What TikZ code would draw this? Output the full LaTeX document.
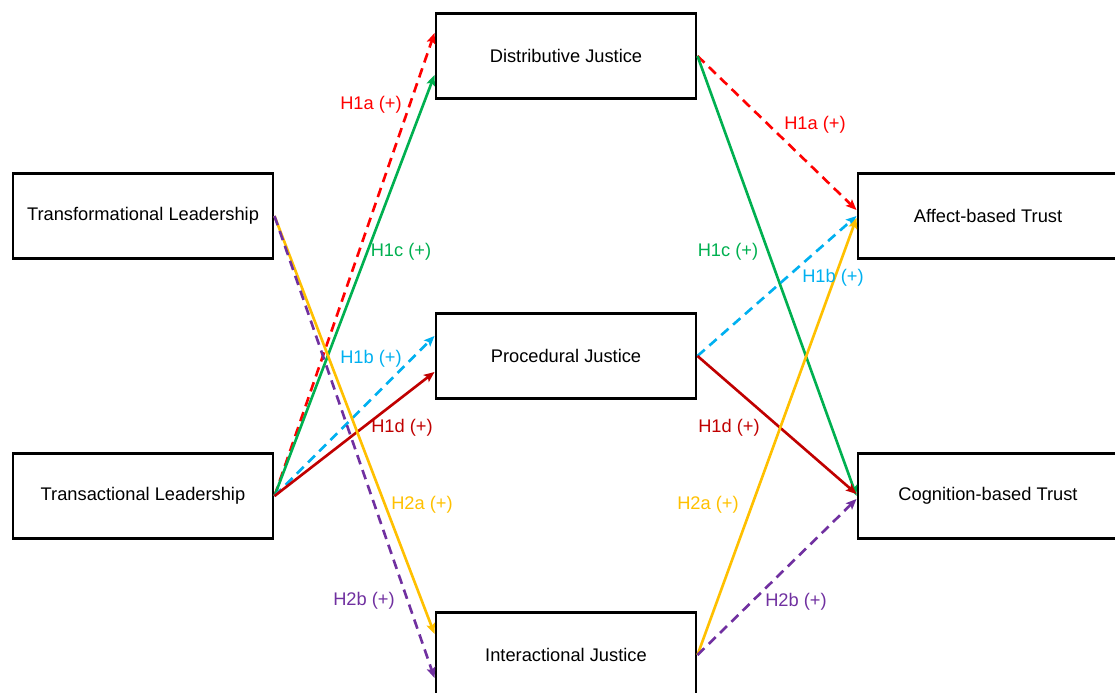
\documentclass[tikz,border=0pt]{standalone}
\usepackage{fontspec}
\setmainfont{Liberation Sans}
\usepackage{tikz}
\usetikzlibrary{arrows.meta,positioning}
\usepackage{xcolor}
\definecolor{hred}{RGB}{255,0,0}
\definecolor{hgreen}{RGB}{0,176,80}
\definecolor{hblue}{RGB}{0,176,240}
\definecolor{hdred}{RGB}{192,0,0}
\definecolor{hyellow}{RGB}{255,192,0}
\definecolor{hpurple}{RGB}{112,48,160}
\tikzstyle{box} = [draw, line width=1.7pt, fill=white, minimum width=5.2cm, minimum height=1.7cm, font=\fontsize{10.4}{12}\selectfont]
\tikzstyle{link} = [line width=1.5pt,-{Stealth[length=6pt,width=5pt,inset=1.2pt]}]
\tikzstyle{dashlink} = [link, dash pattern=on 5.5pt off 3.5pt]
\tikzstyle{hyp} = [font=\fontsize{10.4}{12}\selectfont]

\begin{document}
\begin{tikzpicture}
\useasboundingbox (0,0) rectangle (22.3,-13.86);

% Leadership styles
\node[box] (tfl) at (2.86,-4.32) {Transformational Leadership};
\node[box] (tal) at (2.86,-9.92) {Transactional Leadership};

% Justice dimensions
\node[box] (dist) at (11.32,-1.12) {Distributive Justice};
\node[box] (proc) at (11.32,-7.12) {Procedural Justice};
\node[box] (inter) at (11.32,-13.1) {Interactional Justice};

% Trust outcomes
\node[box] (aff) at (19.76,-4.32) {Affect-based Trust};
\node[box] (cog) at (19.76,-9.92) {Cognition-based Trust};

% H1: transactional leadership -> justice
\draw[dashlink, hred] (tal.east) -- ([yshift=0.46cm]dist.west);
\draw[link, hgreen] (tal.east) -- ([yshift=-0.38cm]dist.west);
\draw[dashlink, hblue] (tal.east) -- ([yshift=0.4cm]proc.west);
\draw[link, hdred] (tal.east) -- ([yshift=-0.32cm]proc.west);

% H2: transformational leadership -> interactional justice
\draw[link, hyellow] (tfl.east) -- ([yshift=0.42cm]inter.west);
\draw[dashlink, hpurple] (tfl.east) -- ([yshift=-0.46cm]inter.west);

% justice -> trust
\draw[dashlink, hred] (dist.east) -- ([yshift=0.12cm]aff.west);
\draw[link, hgreen] (dist.east) -- (cog.west);
\draw[dashlink, hblue] (proc.east) -- (aff.west);
\draw[link, hdred] (proc.east) -- ([yshift=0.04cm]cog.west);
\draw[link, hyellow] (inter.east) -- ([yshift=-0.04cm]aff.west);
\draw[dashlink, hpurple] (inter.east) -- ([yshift=-0.06cm]cog.west);

% Hypothesis labels
\node[hyp, hred] (h1aL) at (7.42,-2.1) {H1a (+)};
\node[hyp, hred] (h1aR) at (16.3,-2.5) {H1a (+)};
\node[hyp, hgreen] (h1cL) at (8.02,-5.04) {H1c (+)};
\node[hyp, hgreen] (h1cR) at (14.56,-5.04) {H1c (+)};
\node[hyp, hblue] (h1bL) at (7.42,-7.18) {H1b (+)};
\node[hyp, hblue] (h1bR) at (16.66,-5.56) {H1b (+)};
\node[hyp, hdred] (h1dL) at (8.04,-8.56) {H1d (+)};
\node[hyp, hdred] (h1dR) at (14.58,-8.56) {H1d (+)};
\node[hyp, hyellow] (h2aL) at (8.44,-10.1) {H2a (+)};
\node[hyp, hyellow] (h2aR) at (14.16,-10.1) {H2a (+)};
\node[hyp, hpurple] (h2bL) at (7.28,-12.02) {H2b (+)};
\node[hyp, hpurple] (h2bR) at (15.92,-12.04) {H2b (+)};
\end{tikzpicture}
\end{document}
